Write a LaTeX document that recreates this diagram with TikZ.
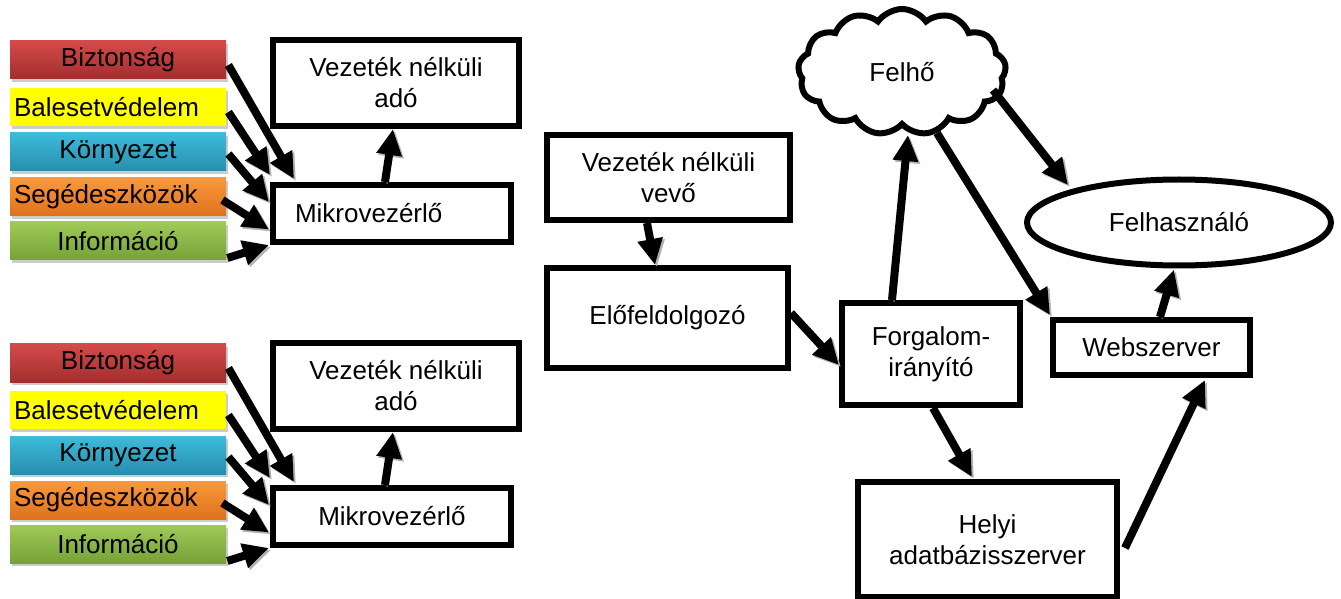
\documentclass[tikz,border=0pt]{standalone}
\usepackage{fontspec}
\setmainfont{Liberation Sans}
\usetikzlibrary{positioning,arrows.meta,shapes.geometric,shapes.symbols,shadows,calc}
\definecolor{redT}{HTML}{D44A4A}
\definecolor{redB}{HTML}{A32E2E}
\definecolor{yelT}{HTML}{FFFF00}
\definecolor{bluT}{HTML}{3DBBDA}
\definecolor{bluB}{HTML}{278EAE}
\definecolor{orgT}{HTML}{F9983C}
\definecolor{orgB}{HTML}{DF721C}
\definecolor{grnT}{HTML}{9FCA58}
\definecolor{grnB}{HTML}{76A236}
\tikzset{
  blk/.style={draw,line width=3pt,fill=white,align=center,inner sep=2pt},
  bar/.style={minimum height=19pt,text width=104pt,inner xsep=2pt,inner ysep=0pt,
    drop shadow={shadow xshift=1pt,shadow yshift=-1.5pt,fill=black!40}},
  arr/.style={-{Triangle[length=13pt,width=12pt]},line width=4pt,
    preaction={draw=black!30,transform canvas={shift={(1pt,-1pt)}}}},
}

\begin{document}
\begin{tikzpicture}[x=0.5pt,y=-0.5pt,font=\fontsize{13}{15.5}\selectfont]
\useasboundingbox (0,0) rectangle (1341,599);
% first sensor group
\node[bar,top color=redT,bottom color=redB,align=center] (bz1) at (118,60) {Biztonság};
\node[bar,fill=yelT,align=left] (bv1) at (118,107) {Balesetvédelem};
\node[bar,top color=bluT,bottom color=bluB,align=center] (kr1) at (118,152) {Környezet};
\node[bar,top color=orgT,bottom color=orgB,align=left] (sd1) at (118,197) {Segédeszközök};
\node[bar,top color=grnT,bottom color=grnB,align=center] (inf1) at (118,241) {Információ};
\node[blk,minimum width=119pt,minimum height=28.5pt,text width=97pt,inner xsep=11pt,align=left] (mk1) at (392,213.5) {Mikrovezérlő};
\node[blk,minimum width=123pt,minimum height=43pt] (ado1) at (396,83) {Vezeték nélküli\\adó};
% second sensor group
\node[bar,top color=redT,bottom color=redB,align=center] (bz2) at (118,363) {Biztonság};
\node[bar,fill=yelT,align=left] (bv2) at (118,410) {Balesetvédelem};
\node[bar,top color=bluT,bottom color=bluB,align=center] (kr2) at (118,455) {Környezet};
\node[bar,top color=orgT,bottom color=orgB,align=left] (sd2) at (118,500) {Segédeszközök};
\node[bar,top color=grnT,bottom color=grnB,align=center] (inf2) at (118,544) {Információ};
\node[blk,minimum width=119pt,minimum height=28.5pt] (mk2) at (392,516.5) {Mikrovezérlő};
\node[blk,minimum width=123pt,minimum height=43pt] (ado2) at (396,386) {Vezeték nélküli\\adó};
% receiving side
\node[blk,minimum width=121.5pt,minimum height=42.5pt] (vevo) at (668.5,177.5) {Vezeték nélküli\\vevő};
\node[blk,minimum width=120.5pt,minimum height=50pt] (elo) at (667.5,318) {Előfeldolgozó};
\node[blk,minimum width=89pt,minimum height=51pt] (forg) at (931,354) {Forgalom-\\irányító};
\node[blk,minimum width=98.5pt,minimum height=27.5pt] (web) at (1151.5,347.5) {Webszerver};
\node[blk,minimum width=129.5pt,minimum height=57.5pt] (helyi) at (987.5,539.5) {Helyi\\adatbázisszerver};
\node[cloud,draw,fill=white,line width=3pt,cloud puffs=13,cloud puff arc=110,cloud ignores aspect,
  minimum width=104pt,minimum height=63pt,inner sep=0pt] (felho) at (902,72) {Felhő};
\node[ellipse,draw,fill=white,line width=3pt,minimum width=152pt,minimum height=43pt,inner sep=0pt] (felh) at (1179,222.5) {Felhasználó};
% connectors, first group
\draw[arr] ($(bz1.east)+(2,5)$) -- ($(mk1.north west)+(24,-3)$);
\draw[arr] ($(bv1.east)+(2,5)$) -- ($(mk1.north west)+(0,-7)$);
\draw[arr] ($(kr1.east)+(2,2)$) -- ($(mk1.north west)+(-1,20)$);
\draw[arr] ($(sd1.east)+(-4,3)$) -- ($(mk1.west)+(-1,16)$);
\draw[arr] ($(inf1.east)+(1,17)$) -- ($(mk1.south west)+(-1,0)$);
\draw[arr] ($(mk1.north)+(-7,0)$) -- ($(ado1.south)+(-3,0)$);
% connectors, second group
\draw[arr] ($(bz2.east)+(2,5)$) -- ($(mk2.north west)+(24,-3)$);
\draw[arr] ($(bv2.east)+(2,5)$) -- ($(mk2.north west)+(0,-7)$);
\draw[arr] ($(kr2.east)+(2,2)$) -- ($(mk2.north west)+(-1,20)$);
\draw[arr] ($(sd2.east)+(-4,3)$) -- ($(mk2.west)+(-1,16)$);
\draw[arr] ($(inf2.east)+(1,17)$) -- ($(mk2.south west)+(-1,0)$);
\draw[arr] ($(mk2.north)+(-7,0)$) -- ($(ado2.south)+(-3,0)$);
% connectors, receiving side
\draw[arr] ($(vevo.south)+(-21.5,0)$) -- ($(elo.north)+(-12.5,0)$);
\draw[arr] ($(elo.east)+(0,-5)$) -- ($(forg.west)+(0,11)$);
\draw[arr] ($(forg.north)+(-39,0)$) -- ($(felho.center)+(6,63)$);
\draw[arr] ($(felho.center)+(91,18)$) -- ($(felh.center)+(-111,-37.5)$);
\draw[arr] ($(felho.center)+(35,61)$) -- ($(web.north west)+(0,-2)$);
\draw[arr] ($(forg.south)+(2,0)$) -- ($(helyi.north)+(-15.5,-2)$);
\draw[arr] ($(helyi.east)+(5,8.5)$) -- ($(web.south)+(53.5,2)$);
\draw[arr] ($(web.north)+(8.5,0)$) -- ($(felh.south)+(-5,1)$);
\end{tikzpicture}
\end{document}
